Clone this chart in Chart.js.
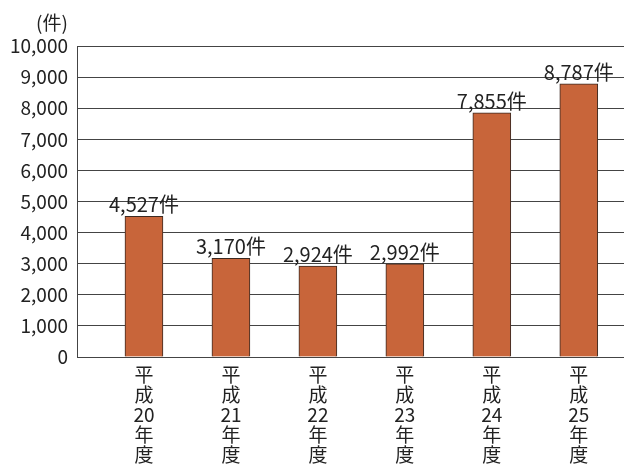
<!DOCTYPE html>
<html>
<head>
<meta charset="utf-8">
<script src="https://cdn.jsdelivr.net/npm/chart.js@4"></script>
<style>
  html, body { margin: 0; padding: 0; background: #fff; overflow: hidden; }
  #wrap { width: 624px; height: 466px; overflow: hidden; position: relative; }
</style>
</head>
<body>
<div id="wrap"><canvas id="chart" width="624" height="480"></canvas></div>
<script>
// データ
const years = ['20', '21', '22', '23', '24', '25'];
const counts = [4527, 3170, 2924, 2992, 7855, 8787];
const yTicks = [0, 1000, 2000, 3000, 4000, 5000, 6000, 7000, 8000, 9000, 10000];

const FONT = "'Noto Sans CJK JP', 'Noto Sans', sans-serif";

function fmt(n) {
    return n.toLocaleString('en-US');
}

// 単位ラベルと棒上の件数
const labelPlugin = {
    id: 'labels',
    afterDatasetsDraw(chart) {
        const ctx = chart.ctx;
        ctx.save();
        ctx.fillStyle = '#222';
        ctx.font = '20px ' + FONT;
        ctx.textAlign = 'center';
        ctx.textBaseline = 'alphabetic';
        chart.getDatasetMeta(0).data.forEach((bar, i) => {
            ctx.fillText(fmt(counts[i]) + '件', bar.x, bar.y - 4);
        });
        ctx.font = '19px ' + FONT;
        ctx.fillText('(件)', 52, 30);
        ctx.restore();
    }
};

new Chart(document.getElementById('chart').getContext('2d'), {
    type: 'bar',
    data: {
        datasets: [{
            data: counts.map((v, i) => ({ x: i, y: v })),
            backgroundColor: '#c8653a',
            borderColor: '#3b2a22',
            borderWidth: 1,
            barThickness: 38
        }]
    },
    options: {
        responsive: false,
        animation: false,
        layout: { padding: { top: 46, right: 0, left: 0, bottom: 0 } },
        plugins: {
            legend: { display: false },
            tooltip: { enabled: false }
        },
        scales: {
            x: {
                type: 'linear',
                offset: false,
                min: -0.77,
                max: 5.52,
                afterBuildTicks: scale => {
                    scale.ticks = years.map((y, i) => ({ value: i }));
                },
                afterFit: scale => { scale.height = 123; },
                grid: { display: false, drawTicks: false },
                border: { display: true, color: '#444', width: 1 },
                ticks: {
                    color: '#222',
                    font: { family: FONT, size: 19, lineHeight: 1.05 },
                    padding: 8,
                    maxRotation: 0,
                    autoSkip: false,
                    callback: v => ['平', '成', years[v], '年', '度']
                }
            },
            y: {
                min: 0,
                max: 10000,
                afterBuildTicks: scale => {
                    scale.ticks = yTicks.map(v => ({ value: v }));
                },
                afterFit: scale => { scale.width = 77; },
                grid: { color: '#444', lineWidth: 1, drawTicks: false },
                border: { display: true, color: '#444', width: 1 },
                ticks: {
                    color: '#222',
                    font: { family: FONT, size: 19 },
                    padding: 9,
                    callback: v => fmt(v)
                }
            }
        }
    },
    plugins: [labelPlugin]
});
</script>
</body>
</html>
